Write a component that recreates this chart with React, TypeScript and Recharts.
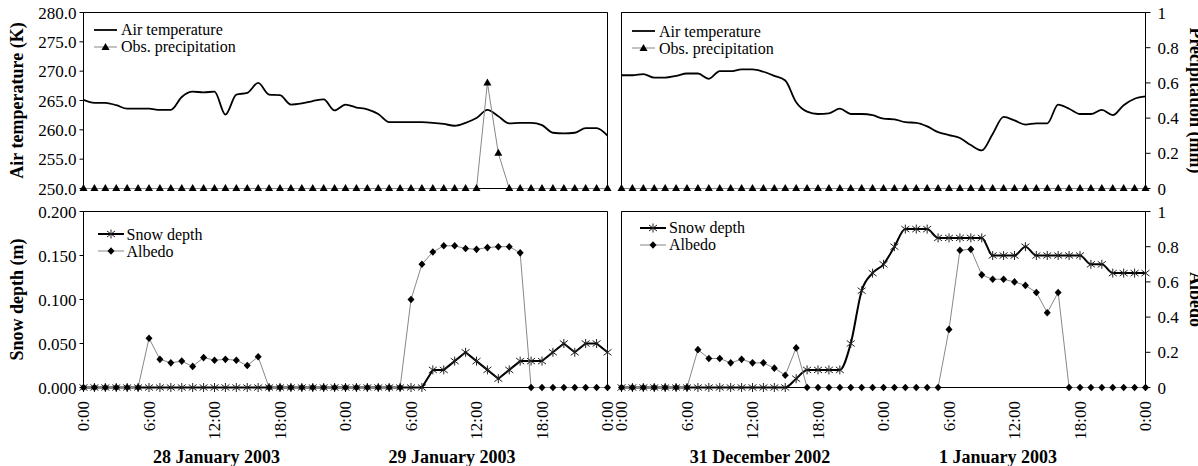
import * as React from 'react';
import { ComposedChart, Line, XAxis, YAxis, ReferenceArea, Legend } from 'recharts';

const FONT = '"Liberation Serif", "Times New Roman", serif';

// hourly steps over two days
const HOURS = Array.from({ length: 49 }, (_, i) => i);
const HOUR_TICKS = [0, 6, 12, 18, 24, 30, 36, 42, 48];
const HOUR_LABELS = ['0:00', '6:00', '12:00', '18:00', '0:00', '6:00', '12:00', '18:00', '0:00'];
const TEMP_TICKS = [250, 255, 260, 265, 270, 275, 280];
const DEPTH_TICKS = [0, 0.05, 0.1, 0.15, 0.2];
const UNIT_TICKS = [0, 0.2, 0.4, 0.6, 0.8, 1];

const DAYS_JAN = ['28 January 2003', '29 January 2003'];
const DAYS_DEC = ['31 December 2002', '1 January 2003'];

// 28-29 January 2003
const TEMP_JAN = [
  265.1, 264.6, 264.6, 264.2, 263.6, 263.6, 263.6, 263.4, 263.4, 265.6, 266.5, 266.4, 266.5,
  262.6, 266.0, 266.3, 268.0, 266.0, 265.9, 264.3, 264.5, 264.9, 265.2, 263.3, 264.3, 263.8,
  263.5, 262.7, 261.3, 261.3, 261.3, 261.3, 261.2, 261.0, 260.7, 261.2, 262.0, 263.4, 262.3,
  261.1, 261.2, 261.2, 260.8, 259.5, 259.4, 259.5, 260.3, 260.3, 259.0,
];
const PRECIP_JAN = [
  0, 0, 0, 0, 0, 0, 0, 0, 0, 0, 0, 0, 0, 0, 0, 0, 0, 0, 0, 0, 0, 0, 0, 0, 0,
  0, 0, 0, 0, 0, 0, 0, 0, 0, 0, 0, 0, 0.6, 0.2, 0, 0, 0, 0, 0, 0, 0, 0, 0, 0,
];
const SNOW_JAN = [
  0, 0, 0, 0, 0, 0, 0, 0, 0, 0, 0, 0, 0, 0, 0, 0, 0, 0, 0, 0, 0, 0, 0, 0, 0,
  0, 0, 0, 0, 0, 0, 0, 0.02, 0.02, 0.03, 0.04, 0.03, 0.02, 0.01, 0.02, 0.03, 0.03,
  0.03, 0.04, 0.05, 0.04, 0.05, 0.05, 0.04,
];
const ALBEDO_JAN = [
  0, 0, 0, 0, 0, 0, 0.28, 0.16, 0.14, 0.15, 0.12, 0.17, 0.155, 0.16, 0.155, 0.125, 0.175,
  0, 0, 0, 0, 0, 0, 0, 0, 0, 0, 0, 0, 0, 0.5, 0.7, 0.77, 0.805, 0.805, 0.79, 0.785, 0.795,
  0.8, 0.8, 0.765, 0, 0, 0, 0, 0, 0, 0, 0,
];

// 31 December 2002 - 1 January 2003
const TEMP_DEC = [
  269.3, 269.3, 269.5, 268.9, 268.9, 269.2, 269.6, 269.6, 268.7, 270.0, 270.0, 270.3, 270.3,
  269.9, 269.2, 268.4, 264.7, 263.1, 262.7, 262.8, 263.6, 262.7, 262.7, 262.5, 261.9, 261.8,
  261.3, 261.2, 260.6, 259.6, 259.1, 258.6, 257.4, 256.5, 259.3, 262.2, 261.6, 260.9, 261.1,
  261.1, 264.3, 263.6, 262.7, 262.7, 263.4, 262.5, 264.2, 265.3, 265.7,
];
const PRECIP_DEC = [
  0, 0, 0, 0, 0, 0, 0, 0, 0, 0, 0, 0, 0, 0, 0, 0, 0, 0, 0, 0, 0, 0, 0, 0, 0,
  0, 0, 0, 0, 0, 0, 0, 0, 0, 0, 0, 0, 0, 0, 0, 0, 0, 0, 0, 0, 0, 0, 0, 0,
];
const SNOW_DEC = [
  0, 0, 0, 0, 0, 0, 0, 0, 0, 0, 0, 0, 0, 0, 0, 0, 0.01, 0.02, 0.02, 0.02, 0.02, 0.05,
  0.11, 0.13, 0.14, 0.16, 0.18, 0.18, 0.18, 0.17, 0.17, 0.17, 0.17, 0.17, 0.15, 0.15,
  0.15, 0.16, 0.15, 0.15, 0.15, 0.15, 0.15, 0.14, 0.14, 0.13, 0.13, 0.13, 0.13,
];
const ALBEDO_DEC = [
  0, 0, 0, 0, 0, 0, 0, 0.215, 0.165, 0.165, 0.14, 0.16, 0.14, 0.14, 0.11, 0.07, 0.225,
  0, 0, 0, 0, 0, 0, 0, 0, 0, 0, 0, 0, 0, 0.33, 0.78, 0.785, 0.64, 0.615, 0.615, 0.6,
  0.58, 0.54, 0.425, 0.54, 0, 0, 0, 0, 0, 0, 0, 0,
];

type DotProps = { cx?: number; cy?: number };

function TriangleDot({ cx = 0, cy = 0 }: DotProps) {
  return <polygon points={`${cx},${cy - 4.5} ${cx - 4},${cy + 2.5} ${cx + 4},${cy + 2.5}`} fill="#000" />;
}

function DiamondDot({ cx = 0, cy = 0 }: DotProps) {
  return <polygon points={`${cx},${cy - 3.8} ${cx + 3.5},${cy} ${cx},${cy + 3.8} ${cx - 3.5},${cy}`} fill="#000" />;
}

function StarDot({ cx = 0, cy = 0 }: DotProps) {
  return (
    <g stroke="#222" strokeWidth={1}>
      <line x1={cx} y1={cy - 4.5} x2={cx} y2={cy + 4.5} />
      <line x1={cx - 4} y1={cy - 3} x2={cx + 4} y2={cy + 3} />
      <line x1={cx - 4} y1={cy + 3} x2={cx + 4} y2={cy - 3} />
    </g>
  );
}

function HourTick(props: any) {
  const { x, y, index } = props;
  return (
    <text x={x} y={y} transform={`rotate(-90 ${x} ${y})`} textAnchor="end" dy="0.35em"
      fontFamily={FONT} fontSize={17} fill="#000">
      {HOUR_LABELS[index]}
    </text>
  );
}

type LegendRow = { label: string; kind: 'temp' | 'precip' | 'snow' | 'albedo' };

function LegendBox({ rows, sampleW, gap }: { rows: LegendRow[]; sampleW: number; gap: number }) {
  const mid = sampleW / 2;
  return (
    <div style={{ fontFamily: FONT, fontSize: 16, color: '#000', whiteSpace: 'nowrap' }}>
      {rows.map((r) => (
        <div key={r.label} style={{ display: 'flex', alignItems: 'center', height: 17 }}>
          <svg width={sampleW} height={12} style={{ display: 'block' }}>
            {r.kind === 'temp' && <line x1={0} y1={6} x2={sampleW} y2={6} stroke="#000" strokeWidth={1.8} />}
            {r.kind === 'precip' && (
              <>
                <line x1={0} y1={6} x2={sampleW} y2={6} stroke="#888" strokeWidth={1} />
                <TriangleDot cx={mid} cy={6.5} />
              </>
            )}
            {r.kind === 'snow' && (
              <>
                <line x1={0} y1={6} x2={sampleW} y2={6} stroke="#000" strokeWidth={2} />
                <StarDot cx={mid} cy={6} />
              </>
            )}
            {r.kind === 'albedo' && (
              <>
                <line x1={0} y1={6} x2={sampleW} y2={6} stroke="#888" strokeWidth={1} />
                <DiamondDot cx={mid} cy={6} />
              </>
            )}
          </svg>
          <span style={{ marginLeft: gap, lineHeight: '17px' }}>{r.label}</span>
        </div>
      ))}
    </div>
  );
}

const TEMP_ROWS: LegendRow[] = [
  { label: 'Air temperature', kind: 'temp' },
  { label: 'Obs. precipitation', kind: 'precip' },
];
const SNOW_ROWS: LegendRow[] = [
  { label: 'Snow depth', kind: 'snow' },
  { label: 'Albedo', kind: 'albedo' },
];

const tickText = { fill: '#000', fontSize: 17, fontFamily: FONT };

interface PanelBox {
  left: number;
  width: number;
  axisL: number;
  axisR: number;
  labelsL: boolean;
  labelsR: boolean;
  legendX: number;
  legendY: number;
}

function TempPanel({ box, temp, precip }: { box: PanelBox; temp: number[]; precip: number[] }) {
  const data = HOURS.map((h, i) => ({ h, temp: temp[i], precip: precip[i] }));
  return (
    <div style={{ position: 'absolute', left: box.left, top: 0 }}>
      <ComposedChart width={box.width} height={206} data={data}
        margin={{ top: 12.5, right: 0, bottom: 17.5, left: 0 }}>
        <XAxis dataKey="h" type="number" domain={[0, 48]} ticks={HOUR_TICKS} hide />
        <YAxis yAxisId="t" orientation="left" width={box.axisL} domain={[250, 280]} ticks={TEMP_TICKS}
          interval={0} stroke="#000" tickSize={4} tickMargin={3} tick={box.labelsL ? tickText : false}
          tickFormatter={(v: number) => v.toFixed(1)} />
        <YAxis yAxisId="p" orientation="right" width={box.axisR} domain={[0, 1]} ticks={UNIT_TICKS}
          interval={0} stroke="#000" tickSize={5} tickMargin={7} tick={box.labelsR ? tickText : false}
          tickFormatter={(v: number) => String(+v.toFixed(1))} />
        <ReferenceArea yAxisId="t" x1={0} x2={48} y1={250} y2={280} fill="none" stroke="#000" />
        <Line yAxisId="t" dataKey="temp" type="monotone" stroke="#000" strokeWidth={1.8}
          dot={false} activeDot={false} isAnimationActive={false} />
        <Line yAxisId="p" dataKey="precip" type="linear" stroke="#888" strokeWidth={1}
          dot={<TriangleDot />} activeDot={false} isAnimationActive={false} />
        <Legend layout="vertical" align="center" verticalAlign="middle"
          wrapperStyle={{ left: box.legendX, top: box.legendY, width: 'auto', height: 'auto' }}
          content={() => <LegendBox rows={TEMP_ROWS} sampleW={23} gap={4} />} />
      </ComposedChart>
    </div>
  );
}

function SnowPanel({ box, snow, albedo, curve }: {
  box: PanelBox; snow: number[]; albedo: number[]; curve: 'linear' | 'monotone';
}) {
  const data = HOURS.map((h, i) => ({ h, snow: snow[i], albedo: albedo[i] }));
  return (
    <div style={{ position: 'absolute', left: box.left, top: 196 }}>
      <ComposedChart width={box.width} height={270} data={data}
        margin={{ top: 15.5, right: 0, bottom: 28.5, left: 0 }}>
        <XAxis dataKey="h" type="number" domain={[0, 48]} ticks={HOUR_TICKS} height={50} interval={0}
          axisLine={false} tickLine={false} tickSize={0} tickMargin={13.5} tick={<HourTick />} />
        <YAxis yAxisId="d" orientation="left" width={box.axisL} domain={[0, 0.2]} ticks={DEPTH_TICKS}
          interval={0} stroke="#000" tickSize={4} tickMargin={3} tick={box.labelsL ? tickText : false}
          tickFormatter={(v: number) => v.toFixed(3)} />
        <YAxis yAxisId="a" orientation="right" width={box.axisR} domain={[0, 1]} ticks={UNIT_TICKS}
          interval={0} stroke="#000" tickSize={5} tickMargin={7} tick={box.labelsR ? tickText : false}
          tickFormatter={(v: number) => String(+v.toFixed(1))} />
        <ReferenceArea yAxisId="d" x1={0} x2={48} y1={0} y2={0.2} fill="none" stroke="#000" />
        <Line yAxisId="d" dataKey="snow" type={curve} stroke="#000" strokeWidth={2}
          dot={<StarDot />} activeDot={false} isAnimationActive={false} />
        <Line yAxisId="a" dataKey="albedo" type="linear" stroke="#888" strokeWidth={1}
          dot={<DiamondDot />} activeDot={false} isAnimationActive={false} />
        <Legend layout="vertical" align="center" verticalAlign="middle"
          wrapperStyle={{ left: box.legendX, top: box.legendY, width: 'auto', height: 'auto' }}
          content={() => <LegendBox rows={SNOW_ROWS} sampleW={26} gap={3} />} />
      </ComposedChart>
    </div>
  );
}

const LEFT_TOP: PanelBox = { left: 0, width: 614, axisL: 83.5, axisR: 6.5, labelsL: true, labelsR: false, legendX: 94, legendY: 21 };
const RIGHT_TOP: PanelBox = { left: 614, width: 584, axisL: 7.5, axisR: 52.5, labelsL: false, labelsR: true, legendX: 18, legendY: 22.5 };
const LEFT_BOTTOM: PanelBox = { left: 0, width: 614, axisL: 83.5, axisR: 6.5, labelsL: true, labelsR: false, legendX: 97.5, legendY: 29.5 };
const RIGHT_BOTTOM: PanelBox = { left: 614, width: 584, axisL: 7.5, axisR: 52.5, labelsL: false, labelsR: true, legendX: 26, legendY: 23 };

const titleStyle = { fontFamily: FONT, fontSize: 18, fontWeight: 700, fill: '#000' } as const;

export default function App() {
  return (
    <div style={{ position: 'absolute', left: 0, top: 0, width: 1198, height: 466, background: '#fff', overflow: 'hidden' }}>
      <style>{'.recharts-surface { overflow: visible; }'}</style>
      <TempPanel box={LEFT_TOP} temp={TEMP_JAN} precip={PRECIP_JAN} />
      <TempPanel box={RIGHT_TOP} temp={TEMP_DEC} precip={PRECIP_DEC} />
      <SnowPanel box={LEFT_BOTTOM} snow={SNOW_JAN} albedo={ALBEDO_JAN} curve="linear" />
      <SnowPanel box={RIGHT_BOTTOM} snow={SNOW_DEC} albedo={ALBEDO_DEC} curve="monotone" />
      <svg width={1198} height={466} style={{ position: 'absolute', left: 0, top: 0, pointerEvents: 'none' }}>
        <text x={23} y={100.5} transform="rotate(-90 23 100.5)" textAnchor="middle" {...titleStyle}>Air temperature (K)</text>
        <text x={23} y={299.5} transform="rotate(-90 23 299.5)" textAnchor="middle" {...titleStyle}>Snow depth (m)</text>
        <text x={1190} y={100.5} transform="rotate(90 1190 100.5)" textAnchor="middle" {...titleStyle}>Precipitation (mm)</text>
        <text x={1190} y={299.5} transform="rotate(90 1190 299.5)" textAnchor="middle" {...titleStyle}>Albedo</text>
        <text x={216.5} y={463} textAnchor="middle" {...titleStyle}>{DAYS_JAN[0]}</text>
        <text x={452} y={463} textAnchor="middle" {...titleStyle}>{DAYS_JAN[1]}</text>
        <text x={760} y={463} textAnchor="middle" {...titleStyle}>{DAYS_DEC[0]}</text>
        <text x={998} y={463} textAnchor="middle" {...titleStyle}>{DAYS_DEC[1]}</text>
      </svg>
    </div>
  );
}
